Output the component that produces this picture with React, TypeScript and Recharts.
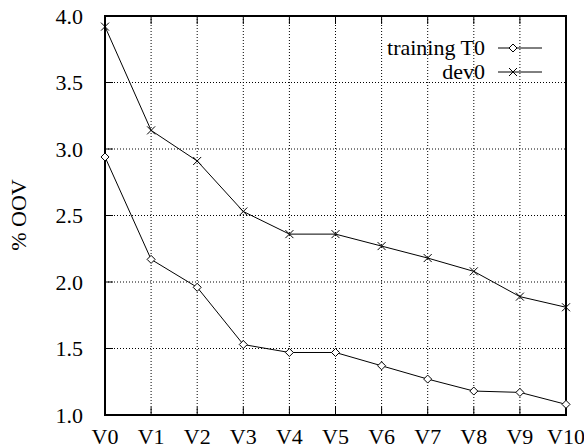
import { CartesianGrid, Legend, Line, LineChart, ReferenceArea, XAxis, YAxis } from 'recharts';

const categories = ['V0', 'V1', 'V2', 'V3', 'V4', 'V5', 'V6', 'V7', 'V8', 'V9', 'V10'];
const trainingT0 = [2.94, 2.17, 1.96, 1.53, 1.47, 1.47, 1.37, 1.27, 1.18, 1.17, 1.08];
const dev0 = [3.92, 3.14, 2.91, 2.53, 2.36, 2.36, 2.27, 2.18, 2.08, 1.89, 1.81];
const yTicks = [1.0, 1.5, 2.0, 2.5, 3.0, 3.5, 4.0];

const data = categories.map((cat, i) => ({ cat, training: trainingT0[i], dev: dev0[i] }));

const FONT = '"Liberation Serif", "Times New Roman", serif';
const tickStyle = { fontSize: 22, fill: '#000', fontFamily: FONT };

function Diamond({ cx, cy }: { cx?: number; cy?: number }) {
  if (cx == null || cy == null) return null;
  const r = 4;
  return (
    <path
      d={`M${cx},${cy - r} L${cx + r},${cy} L${cx},${cy + r} L${cx - r},${cy} Z`}
      fill="#fff"
      stroke="#000"
      strokeWidth={1}
    />
  );
}

function Cross({ cx, cy }: { cx?: number; cy?: number }) {
  if (cx == null || cy == null) return null;
  const r = 4;
  return (
    <path
      d={`M${cx - r},${cy - r} L${cx + r},${cy + r} M${cx - r},${cy + r} L${cx + r},${cy - r}`}
      stroke="#000"
      strokeWidth={1}
      fill="none"
    />
  );
}

function KeyLegend() {
  const rows = [
    { label: 'training T0', Marker: Diamond },
    { label: 'dev0', Marker: Cross },
  ];
  return (
    <div style={{ position: 'absolute', top: 36, left: 300, width: 260 }}>
      {rows.map(({ label, Marker }) => (
        <div key={label} style={{ position: 'relative', height: 24 }}>
          <span
            style={{
              position: 'absolute',
              left: 0,
              top: 1,
              width: 185,
              textAlign: 'right',
              fontFamily: FONT,
              fontSize: 22,
              lineHeight: '22px',
              color: '#000',
              whiteSpace: 'nowrap',
            }}
          >
            {label}
          </span>
          <svg width={50} height={24} style={{ position: 'absolute', left: 198, top: 0 }}>
            <line x1={0} y1={12} x2={44} y2={12} stroke="#000" strokeWidth={1} />
            <Marker cx={15} cy={12} />
          </svg>
        </div>
      ))}
    </div>
  );
}

export default function App() {
  return (
    <div style={{ position: 'absolute', left: 0, top: 0, width: 584, height: 448, background: '#fff' }}>
      <LineChart width={584} height={448} data={data} margin={{ top: 0, right: 0, bottom: 0, left: 0 }}>
        <CartesianGrid stroke="#000" strokeDasharray="1 2" strokeWidth={1} />
        <XAxis
          dataKey="cat"
          height={33}
          axisLine={false}
          tickSize={-8}
          tickMargin={21}
          tickLine={{ stroke: '#000' }}
          tick={tickStyle}
          interval={0}
        />
        <XAxis
          xAxisId="top"
          orientation="top"
          dataKey="cat"
          height={16}
          axisLine={false}
          tickSize={-8}
          tickLine={{ stroke: '#000' }}
          tickFormatter={() => ''}
          interval={0}
        />
        <YAxis
          domain={[1, 4]}
          ticks={yTicks}
          width={105}
          axisLine={false}
          tickSize={-8}
          tickMargin={30}
          tickLine={{ stroke: '#000' }}
          tick={tickStyle}
          tickFormatter={(v: number) => v.toFixed(1)}
          label={{
            content: () => (
              <text
                x={18}
                y={215}
                transform="rotate(-90 18 215)"
                textAnchor="middle"
                dominantBaseline="central"
                fontFamily={FONT}
                fontSize={22}
                fill="#000"
              >
                % OOV
              </text>
            ),
          }}
        />
        <YAxis
          yAxisId="right"
          orientation="right"
          domain={[1, 4]}
          ticks={yTicks}
          width={18}
          axisLine={false}
          tickSize={-8}
          tickLine={{ stroke: '#000' }}
          tickFormatter={() => ''}
        />
        <ReferenceArea x1="V0" x2="V10" y1={1} y2={4} fill="none" stroke="#000" strokeWidth={2} />
        <Line
          dataKey="training"
          stroke="#000"
          strokeWidth={1}
          dot={(p: any) => <Diamond key={`t${p.index}`} cx={p.cx} cy={p.cy} />}
          isAnimationActive={false}
        />
        <Line
          dataKey="dev"
          stroke="#000"
          strokeWidth={1}
          dot={(p: any) => <Cross key={`d${p.index}`} cx={p.cx} cy={p.cy} />}
          isAnimationActive={false}
        />
        <Legend content={() => <KeyLegend />} wrapperStyle={{ position: 'absolute', top: 0, left: 0 }} />
      </LineChart>
    </div>
  );
}
